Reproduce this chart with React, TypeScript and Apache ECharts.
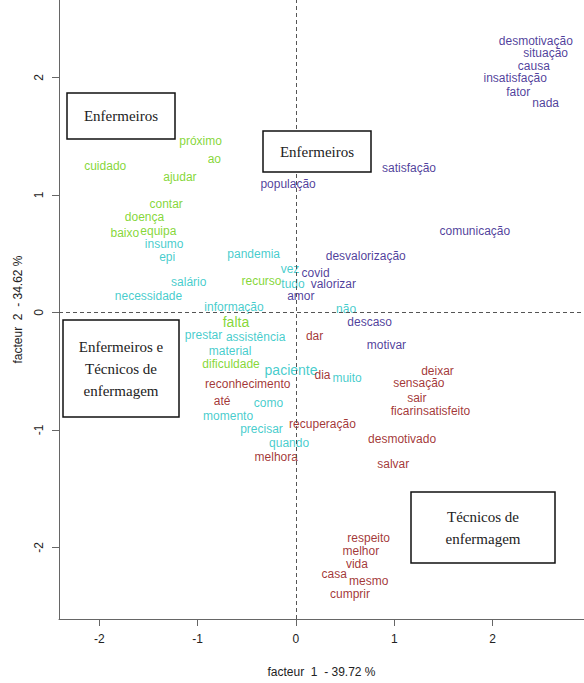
import React, { useEffect, useRef } from "react";
import * as echarts from "echarts";

const navyWords = ["desmotivação", "situação", "causa", "insatisfação", "fator", "nada", "satisfação", "população", "comunicação", "desvalorização", "covid", "valorizar", "amor", "descaso", "motivar"];
const navyX = [2.44, 2.54, 2.42, 2.23, 2.26, 2.54, 1.15, -0.08, 1.82, 0.71, 0.2, 0.38, 0.05, 0.75, 0.92];
const navyY = [2.31, 2.21, 2.1, 2.0, 1.88, 1.78, 1.23, 1.09, 0.69, 0.48, 0.34, 0.24, 0.14, -0.08, -0.28];

const greenWords = ["próximo", "ao", "cuidado", "ajudar", "contar", "doença", "baixo", "equipa", "recurso", "falta", "dificuldade"];
const greenX = [-0.97, -0.83, -1.94, -1.18, -1.32, -1.54, -1.74, -1.4, -0.35, -0.61, -0.66];
const greenY = [1.46, 1.31, 1.25, 1.15, 0.92, 0.81, 0.68, 0.69, 0.27, -0.08, -0.44];

const cyanWords = ["insumo", "epi", "pandemia", "vez", "tudo", "salário", "necessidade", "informação", "não", "prestar", "assistência", "material", "paciente", "muito", "como", "momento", "precisar", "quando"];
const cyanX = [-1.34, -1.31, -0.43, -0.06, -0.03, -1.09, -1.5, -0.63, 0.51, -0.94, -0.41, -0.67, -0.05, 0.52, -0.28, -0.69, -0.35, -0.07];
const cyanY = [0.58, 0.47, 0.5, 0.37, 0.24, 0.26, 0.14, 0.05, 0.03, -0.19, -0.21, -0.33, -0.49, -0.56, -0.77, -0.88, -0.99, -1.11];

const redWords = ["dar", "dia", "reconhecimento", "até", "recuperação", "melhora", "deixar", "sensação", "sair", "ficar", "insatisfeito", "desmotivado", "salvar", "respeito", "melhor", "vida", "casa", "mesmo", "cumprir"];
const redX = [0.19, 0.27, -0.49, -0.75, 0.27, -0.2, 1.44, 1.25, 1.23, 1.08, 1.485, 1.08, 0.99, 0.74, 0.66, 0.62, 0.39, 0.74, 0.55];
const redY = [-0.2, -0.53, -0.61, -0.75, -0.95, -1.23, -0.5, -0.6, -0.73, -0.84, -0.84, -1.08, -1.29, -1.92, -2.03, -2.14, -2.23, -2.29, -2.4];

const bigWords = ["falta", "paciente"];
const tickValues = [-2, -1, 0, 1, 2];
const xAxisTitle = "facteur  1  - 39.72 %";
const yAxisTitle = "facteur  2  - 34.62 %";

const FONT = "'Liberation Sans', Arial, sans-serif";

function makeSeries(words: string[], xs: number[], ys: number[], color: string) {
  return {
    type: "scatter",
    symbolSize: 1,
    itemStyle: { color: "rgba(0,0,0,0)" },
    data: words.map((w, i) => ({
      name: w,
      value: [xs[i], ys[i]],
      label: bigWords.includes(w) ? { fontSize: 14 } : undefined,
    })),
    label: {
      show: true,
      position: "inside",
      formatter: "{b}",
      color,
      fontSize: 12,
      fontFamily: FONT,
    },
    emphasis: { disabled: true },
  };
}

function box(x: number, y: number, w: number, h: number, text: string) {
  return {
    type: "group",
    z: 100,
    children: [
      {
        type: "rect",
        shape: { x, y, width: w, height: h },
        style: { fill: "#fff", stroke: "#111", lineWidth: 1.5 },
        z: 100,
      },
      {
        type: "text",
        x: x + w / 2,
        y: y + h / 2,
        z: 101,
        style: {
          text,
          fill: "#222",
          font: "15px 'Liberation Serif', 'DejaVu Serif', serif",
          align: "center",
          verticalAlign: "middle",
          lineHeight: 22,
        },
      },
    ],
  };
}

export default function App() {
  const ref = useRef<HTMLDivElement>(null);
  useEffect(() => {
    if (!ref.current) return;
    const chart = echarts.init(ref.current, null, { renderer: "svg" });
    const axisCommon = {
      type: "value",
      splitLine: { show: false },
      axisLine: { show: true, onZero: false, lineStyle: { color: "#666", width: 1 } },
      axisTick: { show: true, customValues: tickValues, length: 7, lineStyle: { color: "#666" } },
      axisLabel: { customValues: tickValues, color: "#222", fontSize: 12, fontFamily: FONT },
      nameLocation: "middle",
      nameTextStyle: { color: "#222", fontSize: 12, fontFamily: FONT },
    };
    const option: any = {
      animation: false,
      grid: { left: 59, right: 0, top: 0, bottom: 61 },
      xAxis: {
        ...axisCommon,
        min: -2.41,
        max: 2.93,
        name: xAxisTitle,
        nameGap: 47,
        axisLabel: { ...axisCommon.axisLabel, margin: 14 },
      },
      yAxis: {
        ...axisCommon,
        min: -2.61,
        max: 2.66,
        name: yAxisTitle,
        nameGap: 35,
        axisLabel: { ...axisCommon.axisLabel, rotate: 90, margin: 14 },
      },
      series: [
        {
          type: "scatter",
          data: [],
          markLine: {
            silent: true,
            symbol: "none",
            label: { show: false },
            lineStyle: { type: [4, 3], color: "#555", width: 1 },
            data: [{ xAxis: 0 }, { yAxis: 0 }],
          },
        },
        makeSeries(navyWords, navyX, navyY, "#1E0A82"),
        makeSeries(greenWords, greenX, greenY, "#66CC00"),
        makeSeries(cyanWords, cyanX, cyanY, "#12C0C0"),
        makeSeries(redWords, redX, redY, "#8B0000"),
      ],
      graphic: [
        box(67, 93, 108, 46, "Enfermeiros"),
        box(263, 131, 108, 41, "Enfermeiros"),
        box(63, 320, 116, 97, "Enfermeiros e\nTécnicos de\nenfermagem"),
        box(411, 492, 144, 71, "Técnicos de\nenfermagem"),
      ],
    };
    chart.setOption(option);
    return () => chart.dispose();
  }, []);
  return <div ref={ref} style={{ width: 584, height: 683, position: "absolute", left: 0, top: 0, background: "#fff" }} />;
}
